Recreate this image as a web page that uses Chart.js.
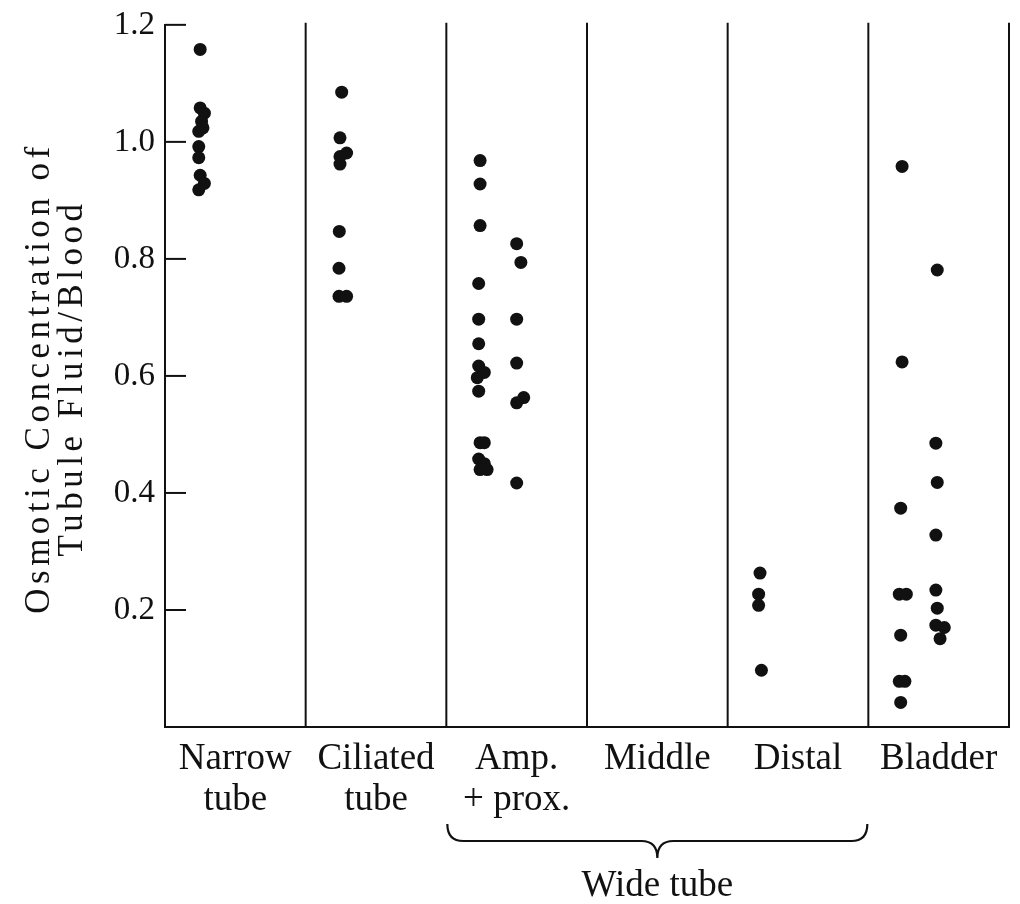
<!DOCTYPE html>
<html>
<head>
<meta charset="utf-8">
<script src="https://cdn.jsdelivr.net/npm/chart.js@4"></script>
<style>
  html, body { margin: 0; padding: 0; background: #fff; }
  #wrap { width: 1020px; height: 904px; }
</style>
</head>
<body>
<div id="wrap"><canvas id="osmoChart"></canvas></div>
<script>
const categories = [["Narrow", "tube"], ["Ciliated", "tube"], ["Amp.", "+ prox."], "Middle", "Distal", "Bladder"];
const yTicks = [0.2, 0.4, 0.6, 0.8, 1.0, 1.2];
const groupLabel = "Wide tube";
const yTitle = ["Osmotic Concentration of", "Tubule Fluid/Blood"];

// x = column position (0-6), y = fluid/blood ratio
const narrowX = [0.25, 0.25, 0.28, 0.26, 0.27, 0.24, 0.24, 0.24, 0.25, 0.28, 0.24];
const narrowY = [1.158, 1.058, 1.049, 1.035, 1.024, 1.018, 0.992, 0.973, 0.943, 0.929, 0.918];

const ciliatedX = [1.256, 1.244, 1.291, 1.244, 1.244, 1.239, 1.237, 1.237, 1.291];
const ciliatedY = [1.085, 1.007, 0.981, 0.975, 0.962, 0.847, 0.784, 0.736, 0.736];

const ampX = [2.24, 2.24, 2.24, 2.23, 2.23, 2.23, 2.23, 2.27, 2.22, 2.23, 2.24, 2.27, 2.23, 2.27, 2.24, 2.29,
              2.50, 2.53, 2.50, 2.50, 2.55, 2.50, 2.50];
const ampY = [0.968, 0.928, 0.857, 0.758, 0.697, 0.655, 0.617, 0.606, 0.597, 0.574, 0.486, 0.486, 0.458, 0.450, 0.440, 0.440,
              0.826, 0.794, 0.697, 0.622, 0.563, 0.554, 0.417];

const distalX = [4.23, 4.22, 4.22, 4.24];
const distalY = [0.263, 0.227, 0.208, 0.097];

const bladderX = [5.24, 5.24, 5.23, 5.22, 5.27, 5.23, 5.22, 5.26, 5.23,
                  5.49, 5.48, 5.49, 5.48, 5.48, 5.49, 5.48, 5.54, 5.51];
const bladderY = [0.958, 0.624, 0.374, 0.227, 0.227, 0.157, 0.078, 0.078, 0.042,
                  0.781, 0.485, 0.418, 0.328, 0.234, 0.203, 0.174, 0.170, 0.151];

function pairs(xs, ys) {
  return xs.map((x, i) => ({ x: x, y: ys[i] }));
}

const points = [].concat(
  pairs(narrowX, narrowY),
  pairs(ciliatedX, ciliatedY),
  pairs(ampX, ampY),
  pairs(distalX, distalY),
  pairs(bladderX, bladderY)
);

const ink = "#111";
const serif = "'Liberation Serif', 'Times New Roman', serif";

// column dividers, inward ticks, brace and the rotated y title
const framePlugin = {
  id: "frame",
  beforeDatasetsDraw(chart) {
    const { ctx, chartArea, scales } = chart;
    const x = scales.x, y = scales.y;
    ctx.save();
    ctx.strokeStyle = ink;
    ctx.lineWidth = 2;

    for (let i = 1; i <= categories.length; i++) {
      const px = x.getPixelForValue(i);
      ctx.beginPath();
      ctx.moveTo(px, chartArea.top - 2);
      ctx.lineTo(px, chartArea.bottom);
      ctx.stroke();
    }

    yTicks.forEach(v => {
      const py = y.getPixelForValue(v);
      ctx.beginPath();
      ctx.moveTo(chartArea.left, py);
      ctx.lineTo(chartArea.left + 21, py);
      ctx.stroke();
    });

    // brace under the three wide-tube columns
    const x0 = x.getPixelForValue(2) + 1;
    const x1 = x.getPixelForValue(5) - 1;
    const xm = (x0 + x1) / 2;
    const top = 824, mid = 841, tip = 858, r = 16;
    ctx.lineWidth = 2.2;
    ctx.beginPath();
    ctx.moveTo(x0, top);
    ctx.quadraticCurveTo(x0, mid, x0 + r, mid);
    ctx.lineTo(xm - r, mid);
    ctx.quadraticCurveTo(xm, mid, xm, tip);
    ctx.quadraticCurveTo(xm, mid, xm + r, mid);
    ctx.lineTo(x1 - r, mid);
    ctx.quadraticCurveTo(x1, mid, x1, top);
    ctx.stroke();

    ctx.fillStyle = ink;
    ctx.font = "37px " + serif;
    ctx.textAlign = "center";
    ctx.textBaseline = "alphabetic";
    ctx.fillText(groupLabel, xm, 896);

    // y axis title, two rotated lines with wide letter spacing
    ctx.translate(40, 378);
    ctx.rotate(-Math.PI / 2);
    ctx.font = "35px " + serif;
    ctx.letterSpacing = "4.5px";
    ctx.textBaseline = "middle";
    ctx.fillText(yTitle[0], 0, 0);
    ctx.fillText(yTitle[1], 0, 33);
    ctx.restore();
  }
};

new Chart(document.getElementById("osmoChart"), {
  type: "scatter",
  data: {
    datasets: [{
      data: points,
      backgroundColor: ink,
      borderColor: ink,
      pointRadius: 6.5,
      pointHoverRadius: 6.5,
      borderWidth: 0,
    }],
  },
  options: {
    responsive: true,
    maintainAspectRatio: false,
    devicePixelRatio: 1,
    animation: false,
    layout: { padding: { top: 23, right: 11, left: 0, bottom: 0 } },
    plugins: {
      legend: { display: false },
      tooltip: { enabled: false },
    },
    scales: {
      x: {
        type: "linear",
        min: 0,
        max: categories.length,
        afterBuildTicks: (scale) => {
          scale.ticks = categories.map((c, i) => ({ value: i + 0.5 }));
        },
        afterFit: (scale) => { scale.height = 177; },
        grid: { display: false, drawTicks: false },
        border: { display: true, color: ink, width: 2 },
        ticks: {
          autoSkip: false,
          maxRotation: 0,
          padding: 11,
          color: ink,
          font: { family: serif, size: 37, lineHeight: 1.13 },
          callback: (value, index) => categories[index],
        },
      },
      y: {
        min: 0,
        max: 1.2,
        afterFit: (scale) => { scale.width = 165; },
        grid: { display: false, drawTicks: false },
        border: { display: true, color: ink, width: 2 },
        ticks: {
          stepSize: 0.2,
          padding: 10,
          color: ink,
          font: { family: serif, size: 33, lineHeight: 0.9 },
          callback: (value) => (value === 0 ? "" : value.toFixed(1)),
        },
      },
    },
  },
  plugins: [framePlugin],
});
</script>
</body>
</html>
